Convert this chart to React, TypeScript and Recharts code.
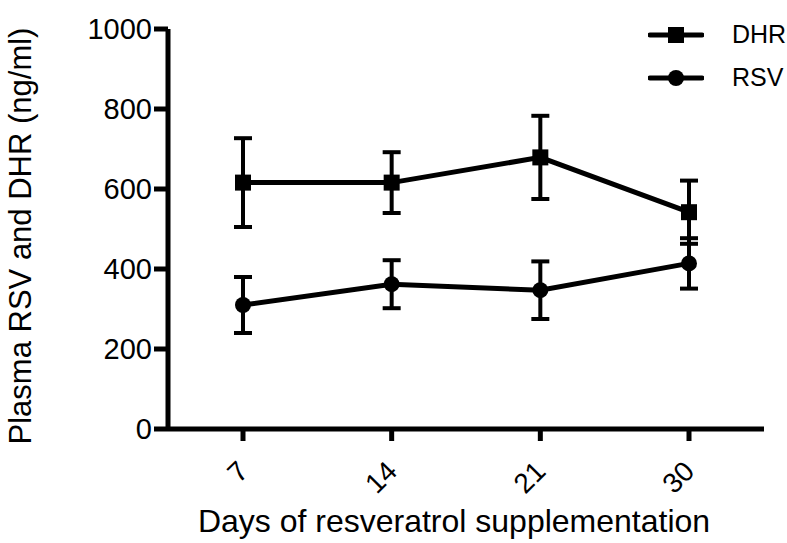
import { LineChart, Line, XAxis, YAxis, ErrorBar } from "recharts";

const days = ["7", "14", "21", "30"];
const dhrMean = [616, 616, 679, 542];
const dhrErr = [111, 76, 104, 79];
const rsvMean = [310, 362, 347, 414];
const rsvErr = [70, 60, 72, 63];
const yTicks = [0, 200, 400, 600, 800, 1000];

const data = days.map((d, i) => ({
  day: d,
  dhr: dhrMean[i],
  dhrErr: dhrErr[i],
  rsv: rsvMean[i],
  rsvErr: rsvErr[i],
}));

const FONT = "'Liberation Sans', Arial, Helvetica, sans-serif";

const SquareDot = (props: any) => {
  const { cx, cy } = props;
  if (cx == null || cy == null) return null;
  return <rect x={cx - 8} y={cy - 8} width={16} height={16} fill="#000" />;
};

const CircleDot = (props: any) => {
  const { cx, cy } = props;
  if (cx == null || cy == null) return null;
  return <circle cx={cx} cy={cy} r={8} fill="#000" />;
};

const XTick = (props: any) => {
  const { x, y, payload } = props;
  const ax = x + 7;
  const ay = y + 30;
  return (
    <text
      x={ax}
      y={ay}
      transform={`rotate(-45, ${ax}, ${ay})`}
      textAnchor="end"
      fontSize={28}
      fontFamily={FONT}
      fill="#000"
    >
      {payload.value}
    </text>
  );
};

export default function App() {
  return (
    <div style={{ position: "absolute", left: 0, top: 0, width: 787, height: 543, background: "#fff" }}>
      <LineChart
        width={787}
        height={543}
        data={data}
        margin={{ top: 29, right: 23, left: 0, bottom: 0 }}
      >
        <XAxis
          dataKey="day"
          height={114}
          padding={{ left: 75, right: 75 }}
          axisLine={{ stroke: "#000", strokeWidth: 5 }}
          tickLine={{ stroke: "#000", strokeWidth: 5 }}
          tickSize={12}
          tick={<XTick />}
          interval={0}
          label={{
            value: "Days of resveratrol supplementation",
            position: "insideBottom",
            offset: 11,
            fontSize: 32,
            fontFamily: FONT,
            fill: "#000",
            dx: -12,
          }}
        />
        <YAxis
          width={168}
          domain={[0, 1000]}
          ticks={yTicks}
          allowDataOverflow
          axisLine={{ stroke: "#000", strokeWidth: 5 }}
          tickLine={{ stroke: "#000", strokeWidth: 5 }}
          tickSize={14}
          tickMargin={2}
          tick={{ fontSize: 29, fontFamily: FONT, fill: "#000" }}
          label={{
            value: "Plasma RSV and DHR (ng/ml)",
            angle: -90,
            position: "insideLeft",
            offset: 20,
            fontSize: 31,
            fontFamily: FONT,
            fill: "#000",
            dy: 7,
            style: { textAnchor: "middle" },
          }}
        />
        <Line
          dataKey="dhr"
          stroke="#000"
          strokeWidth={5}
          dot={<SquareDot />}
          activeDot={false}
          isAnimationActive={false}
        >
          <ErrorBar dataKey="dhrErr" width={9} stroke="#000" strokeWidth={4} direction="y" />
        </Line>
        <Line
          dataKey="rsv"
          stroke="#000"
          strokeWidth={5}
          dot={<CircleDot />}
          activeDot={false}
          isAnimationActive={false}
        >
          <ErrorBar dataKey="rsvErr" width={9} stroke="#000" strokeWidth={4} direction="y" />
        </Line>
      </LineChart>
      <div style={{ position: "absolute", left: 648, top: 13, fontFamily: FONT, fontSize: 25 }}>
        {[
          { name: "DHR", shape: "square" },
          { name: "RSV", shape: "circle" },
        ].map((item) => (
          <div key={item.name} style={{ display: "flex", alignItems: "center", height: 43 }}>
            <svg width={56} height={20} style={{ marginRight: 28 }}>
              <line x1={2} y1={10} x2={54} y2={10} stroke="#000" strokeWidth={5} strokeLinecap="round" />
              {item.shape === "square" ? (
                <rect x={20} y={2} width={16} height={16} fill="#000" />
              ) : (
                <circle cx={28} cy={10} r={8} fill="#000" />
              )}
            </svg>
            <span>{item.name}</span>
          </div>
        ))}
      </div>
    </div>
  );
}
